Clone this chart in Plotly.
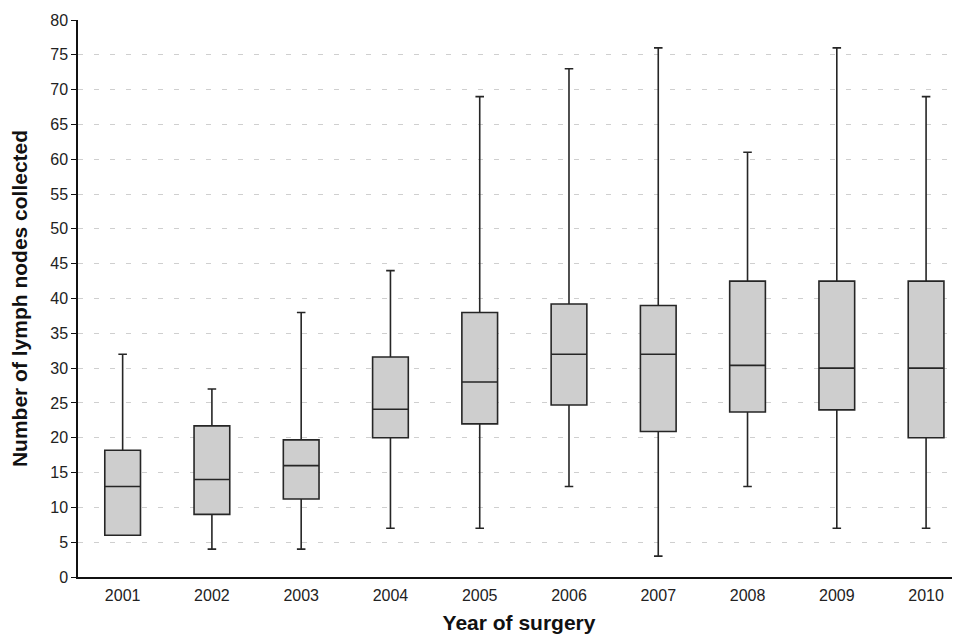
import plotly.graph_objects as go

years = [2001, 2002, 2003, 2004, 2005, 2006, 2007, 2008, 2009, 2010]
lower = [6, 4, 4, 7, 7, 13, 3, 13, 7, 7]
q1 = [6, 9, 11.2, 20, 22, 24.7, 20.9, 23.7, 24, 20]
median = [13, 14, 16, 24.1, 28, 32, 32, 30.4, 30, 30]
q3 = [18.2, 21.7, 19.7, 31.6, 38, 39.2, 39, 42.5, 42.5, 42.5]
upper = [32, 27, 38, 44, 69, 73, 76, 61, 76, 69]
y_ticks = list(range(0, 81, 5))

fig = go.Figure()
fig.add_trace(go.Box(
    x=years, q1=q1, median=median, q3=q3,
    lowerfence=lower, upperfence=upper,
    width=0.4, whiskerwidth=0.24,
    fillcolor="#cecece",
    line=dict(color="#262626", width=1.6),
    boxpoints=False, hoverinfo="skip", showlegend=False,
))

font_family = "Liberation Sans, Arial, sans-serif"
fig.update_layout(
    width=952, height=626,
    margin=dict(l=70, r=0, t=12, b=57),
    paper_bgcolor="white", plot_bgcolor="white",
    font=dict(family=font_family, size=16, color="#222"),
    xaxis=dict(
        range=[2000.5, 2010.38], tickmode="array", tickvals=years,
        ticktext=[str(y) for y in years],
        showgrid=False, zeroline=False, showline=True, automargin=False,
        linecolor="#111", linewidth=1.5, ticks="", ticklabelstandoff=3,
        tickfont=dict(size=16, color="#222"),
        title=dict(text="<b>Year of surgery</b>", font=dict(size=21, color="#111"), standoff=14),
    ),
    yaxis=dict(
        range=[0, 80], tickmode="array", tickvals=y_ticks,
        showgrid=True, gridcolor="#cfcfcf", griddash="5px,11px", gridwidth=1,
        zeroline=False, showline=True, linecolor="#111", linewidth=1.5,
        ticks="outside", ticklen=5, tickcolor="#111", automargin=False,
        tickfont=dict(size=16, color="#222"),
        title=dict(text="<b>Number of lymph nodes collected</b>", font=dict(size=21, color="#111"), standoff=20),
    ),
)

fig.write_html("out.html")
